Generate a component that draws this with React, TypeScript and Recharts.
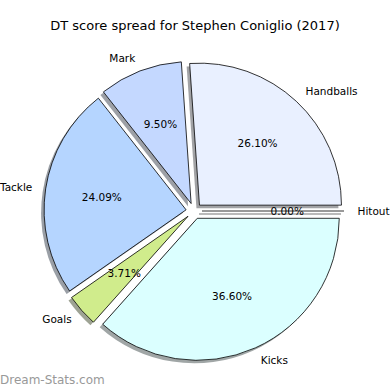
import { PieChart, Pie, Cell, Sector } from "recharts";

const CATEGORIES = ["Handballs", "Mark", "Tackle", "Goals", "Kicks", "Hitout"];
const SHARES = [26.1, 9.5, 24.09, 3.71, 36.6, 0.0];

const COLORS = [
  "#e9f0ff", // handballs
  "#c4d8ff", // mark
  "#b5d5ff", // tackle
  "#d0ec8c", // goals
  "#dbffff", // kicks
  "#f0f0f0", // hitout
];

const TITLE = "DT score spread for Stephen Coniglio (2017)";
const FONT = "'DejaVu Sans', sans-serif";

const RADIAN = Math.PI / 180;
const EXPLODE = 8; // px each wedge is pushed out
const SHADOW_DX = -3;
const SHADOW_DY = 3;

const data = CATEGORIES.map((name, i) => ({ name, value: SHARES[i] }));

// matplotlib shadow: 0.3 * face colour at half alpha
const shade = (hex: string) => {
  const n = parseInt(hex.slice(1), 16);
  const r = Math.round(((n >> 16) & 255) * 0.3);
  const g = Math.round(((n >> 8) & 255) * 0.3);
  const b = Math.round((n & 255) * 0.3);
  return `rgb(${r},${g},${b})`;
};

const exploded = (cx: number, cy: number, midAngle: number) => ({
  x: cx + EXPLODE * Math.cos(-midAngle * RADIAN),
  y: cy + EXPLODE * Math.sin(-midAngle * RADIAN),
});

const wedge = (
  x: number,
  y: number,
  r: number,
  startAngle: number,
  endAngle: number,
  fill: string,
  opacity: number,
  stroke: string
) => {
  if (Math.abs(endAngle - startAngle) < 1e-6) {
    const ex = x + r * Math.cos(-startAngle * RADIAN);
    const ey = y + r * Math.sin(-startAngle * RADIAN);
    return (
      <path
        d={`M${x},${y}L${ex},${ey}`}
        stroke={stroke === "none" ? fill : stroke}
        strokeOpacity={opacity}
        strokeWidth={stroke === "none" ? 1.5 : 0.8}
        fill="none"
      />
    );
  }
  return (
    <Sector
      cx={x}
      cy={y}
      innerRadius={0}
      outerRadius={r}
      startAngle={startAngle}
      endAngle={endAngle}
      fill={fill}
      fillOpacity={opacity}
      stroke={stroke}
      strokeWidth={0.8}
    />
  );
};

const renderShadow = (props: any) => {
  const { cx, cy, midAngle, startAngle, endAngle, outerRadius, index } = props;
  const c = exploded(cx, cy, midAngle);
  return (
    <g key={`shadow-${index}`}>
      {wedge(
        c.x + SHADOW_DX,
        c.y + SHADOW_DY,
        outerRadius,
        startAngle,
        endAngle,
        shade(COLORS[index % COLORS.length]),
        0.5,
        "none"
      )}
    </g>
  );
};

const renderWedge = (props: any) => {
  const { cx, cy, midAngle, startAngle, endAngle, outerRadius, index, percent, name } = props;
  const c = exploded(cx, cy, midAngle);
  const cos = Math.cos(-midAngle * RADIAN);
  const sin = Math.sin(-midAngle * RADIAN);
  const lx = c.x + outerRadius * 1.095 * cos;
  const ly = c.y + outerRadius * 1.095 * sin;
  const px = c.x + outerRadius * 0.6 * cos;
  const py = c.y + outerRadius * 0.6 * sin;
  return (
    <g key={`wedge-${index}`}>
      {wedge(c.x, c.y, outerRadius, startAngle, endAngle, COLORS[index % COLORS.length], 1, "#000")}
      <text
        x={lx}
        y={ly}
        textAnchor={cos >= 0 ? "start" : "end"}
        dominantBaseline="central"
        fontFamily={FONT}
        fontSize={10.5}
        fill="#000"
      >
        {name}
      </text>
      <text
        x={px}
        y={py}
        textAnchor="middle"
        dominantBaseline="central"
        fontFamily={FONT}
        fontSize={10.5}
        fill="#000"
      >
        {`${(percent * 100).toFixed(2)}%`}
      </text>
    </g>
  );
};

const App = () => {
  return (
    <div style={{ position: "absolute", left: 0, top: 0, width: 390, height: 390, background: "#fff" }}>
      <PieChart width={390} height={390} margin={{ top: 0, right: 0, bottom: 0, left: 0 }}>
        <text
          x={195}
          y={25}
          textAnchor="middle"
          dominantBaseline="central"
          fontFamily={FONT}
          fontSize={13}
          fill="#000"
        >
          {TITLE}
        </text>
        <Pie
          data={data}
          dataKey="value"
          nameKey="name"
          cx={194}
          cy={211}
          innerRadius={0}
          outerRadius={142}
          startAngle={0}
          endAngle={360}
          stroke="none"
          labelLine={false}
          label={renderShadow}
          isAnimationActive={false}
        >
          {data.map((_, i) => (
            <Cell key={`s-${i}`} fill="none" stroke="none" />
          ))}
        </Pie>
        <Pie
          data={data}
          dataKey="value"
          nameKey="name"
          cx={194}
          cy={211}
          innerRadius={0}
          outerRadius={142}
          startAngle={0}
          endAngle={360}
          stroke="none"
          labelLine={false}
          label={renderWedge}
          isAnimationActive={false}
        >
          {data.map((_, i) => (
            <Cell key={`w-${i}`} fill="none" stroke="none" />
          ))}
        </Pie>
        <text
          x={0}
          y={380}
          dominantBaseline="central"
          fontFamily={FONT}
          fontSize={12}
          fill="#999999"
        >
          Dream-Stats.com
        </text>
      </PieChart>
    </div>
  );
};

export default App;
